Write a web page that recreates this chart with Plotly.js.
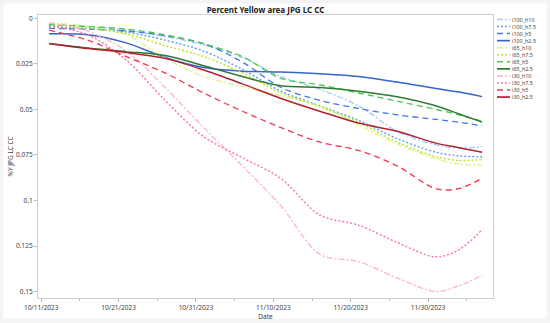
<!DOCTYPE html>
<html>
<head>
<meta charset="utf-8">
<script src="https://cdn.plot.ly/plotly-3.0.1.min.js"></script>
<style>html,body{margin:0;padding:0;background:#f4f4f4;}#chart{width:550px;height:323px;}</style>
</head>
<body>
<div id="chart"></div>
<script>
// ---- data ----
var dates = ['2023-10-12','2023-10-17','2023-10-22','2023-10-27','2023-11-01','2023-11-06','2023-11-11','2023-11-16','2023-11-21','2023-11-26','2023-12-01','2023-12-04','2023-12-07'];

var seriesNames = ['i100_h10','i100_h7.5','i100_h5','i100_h2.5','i65_h10','i65_h7.5','i65_h5','i65_h2.5','i30_h10','i30_h7.5','i30_h5','i30_h2.5'];

var i100_h10  = [0.0030,0.0045,0.0065,0.0100,0.0145,0.0215,0.0320,0.0390,0.0480,0.0620,0.0695,0.0712,0.0705];
var i100_h7_5 = [0.0045,0.0055,0.0075,0.0120,0.0180,0.0280,0.0400,0.0480,0.0560,0.0660,0.0735,0.0755,0.0760];
var i100_h5   = [0.0055,0.0060,0.0070,0.0095,0.0140,0.0240,0.0380,0.0450,0.0495,0.0530,0.0555,0.0570,0.0590];
var i100_h2_5 = [0.0085,0.0090,0.0135,0.0215,0.0270,0.0290,0.0295,0.0305,0.0320,0.0350,0.0385,0.0405,0.0430];
var i65_h10   = [0.0025,0.0045,0.0090,0.0220,0.0320,0.0375,0.0425,0.0480,0.0585,0.0690,0.0770,0.0800,0.0805];
var i65_h7_5  = [0.0035,0.0055,0.0085,0.0150,0.0210,0.0300,0.0410,0.0485,0.0570,0.0680,0.0760,0.0780,0.0775];
var i65_h5    = [0.0035,0.0045,0.0060,0.0090,0.0140,0.0210,0.0330,0.0365,0.0410,0.0455,0.0500,0.0530,0.0565];
var i65_h2_5  = [0.0138,0.0163,0.0183,0.0204,0.0260,0.0320,0.0370,0.0380,0.0400,0.0430,0.0480,0.0525,0.0570];
var i30_h10   = [0.0025,0.0070,0.0180,0.0380,0.0600,0.0810,0.1030,0.1295,0.1335,0.1425,0.1500,0.1468,0.1410];
var i30_h7_5  = [0.0040,0.0090,0.0230,0.0450,0.0650,0.0765,0.0880,0.1080,0.1135,0.1230,0.1310,0.1270,0.1160];
var i30_h5    = [0.0065,0.0120,0.0210,0.0300,0.0410,0.0510,0.0600,0.0680,0.0725,0.0810,0.0935,0.0935,0.0877];
var i30_h2_5  = [0.0138,0.0166,0.0188,0.0220,0.0284,0.0360,0.0440,0.0510,0.0575,0.0620,0.0685,0.0710,0.0735];

var seriesValues = [i100_h10,i100_h7_5,i100_h5,i100_h2_5,i65_h10,i65_h7_5,i65_h5,i65_h2_5,i30_h10,i30_h7_5,i30_h5,i30_h2_5];

// ---- styles ----
var colors = ['#9fcaf3','#5c9ff0','#3d78e6','#3565c8','#d8f58c','#c0e21c','#45c845','#2f7a32','#ffb3c3','#ff7391','#f03a50','#b3202f'];
var dashes = ['6px,2px,2px,2px','2px,2px','6px,4px','solid','6px,2px,2px,2px','2px,2px','6px,4px','solid','6px,2px,2px,2px','2px,2px','6px,4px','solid'];
var widths = [1.3,1.4,1.3,1.5,1.3,1.4,1.3,1.5,1.3,1.4,1.3,1.5];

var traces = seriesNames.map(function(n,i){
  return {x: dates, y: seriesValues[i], name: n, type: 'scatter', mode: 'lines',
    line: {color: colors[i], dash: dashes[i], width: widths[i], shape: 'spline', smoothing: 0.9},
    showlegend: false, hoverinfo: 'x+y+name'};
});

// geometry (px)
var W = 550, H = 323, mL = 38, mR = 57, mT = 15, mB = 25;
var pw = W - mL - mR, ph = H - mT - mB;
function px2x(p){ return (p - mL)/pw; }
function px2y(p){ return (H - mB - p)/ph; }

var shapes = [{type:'rect', xref:'paper', yref:'paper', x0:px2x(3.5), x1:px2x(546.5), y0:px2y(318.5), y1:px2y(3.5),
  fillcolor:'#ffffff', line:{width:0}, layer:'below'}];
var annotations = [];
seriesNames.forEach(function(n,i){
  var yc = 19.5 + 7.05*i;
  shapes.push({type:'line', xref:'paper', yref:'paper', x0:px2x(497), x1:px2x(510), y0:px2y(yc), y1:px2y(yc),
    line:{color:colors[i], width:widths[i]+0.2, dash:dashes[i]}});
  annotations.push({xref:'paper', yref:'paper', x:px2x(511), y:px2y(yc), xanchor:'left', yanchor:'middle',
    text:n, showarrow:false, borderpad:0, font:{size:5.4, color:'#444', family:'Noto Sans, sans-serif'}});
});

var layout = {
  width: W, height: H,
  margin: {l: mL, r: mR, t: mT, b: mB, pad: 0},
  paper_bgcolor: '#f4f4f4', plot_bgcolor: '#ffffff',
  font: {family: 'Noto Sans, sans-serif', size: 6.5, color: '#404040'},
  title: {text: '<b>Percent Yellow area JPG LC CC</b>', font: {size: 8, color: '#222'},
    xref: 'paper', x: 0.5, xanchor: 'center', yref: 'container', y: 1 - 10/H, yanchor: 'middle'},
  xaxis: {type: 'date', range: ['2023-10-10 14:00', '2023-12-08 09:30'],
    tick0: '2023-10-11', dtick: 864000000, tickformat: '%m/%d/%Y',
    ticks: 'outside', ticklen: 3, tickcolor: '#bbb', showgrid: false, zeroline: false,
    showline: true, linecolor: '#cfcfcf', linewidth: 1, mirror: true,
    minor: {dtick: 432000000, tick0: '2023-10-11', ticks: 'outside', ticklen: 2, tickcolor: '#bbb', showgrid: false},
    tickfont: {size: 6.5, color: '#404040'},
    title: {text: 'Date', font: {size: 6.5, color: '#404040'}, standoff: 1}},
  yaxis: {range: [0.1535, -0.0018], dtick: 0.025, tick0: 0,
    ticks: 'outside', ticklen: 3, tickcolor: '#bbb', showgrid: false, zeroline: false,
    showline: true, linecolor: '#cfcfcf', linewidth: 1, mirror: true,
    tickfont: {size: 6.5, color: '#404040'},
    title: {text: '%Y JPG LC CC', font: {size: 6.5, color: '#404040'}, standoff: 1}},
  showlegend: false,
  shapes: shapes,
  annotations: annotations
};

Plotly.newPlot('chart', traces, layout, {displayModeBar: false, staticPlot: true});
</script>
</body>
</html>
